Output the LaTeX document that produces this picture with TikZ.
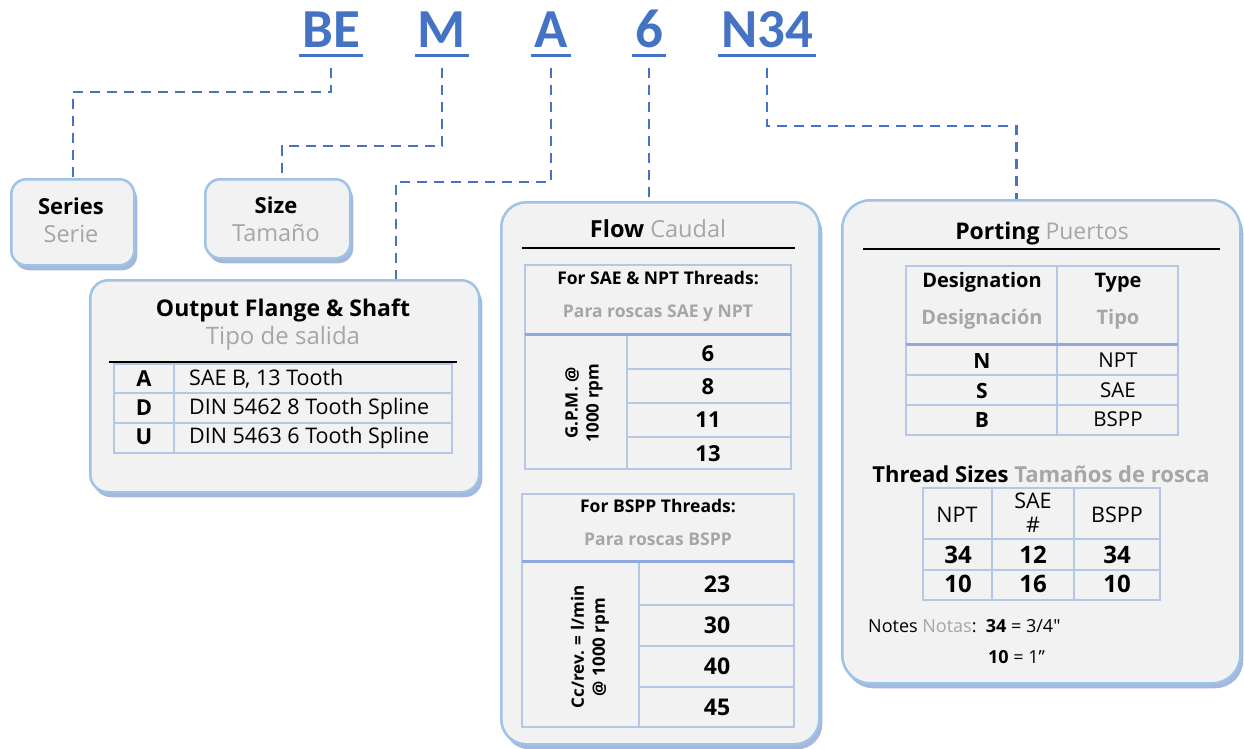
\documentclass[tikz,border=0pt]{standalone}
\usepackage{fontspec}
\setmainfont{Open Sans}
\newfontfamily\codefont{Carlito}
\usetikzlibrary{calc, shadows}
\definecolor{codeblue}{HTML}{4472C4}
\definecolor{boxline}{HTML}{9DC3E6}
\definecolor{boxfill}{HTML}{F2F2F2}
\definecolor{shade}{HTML}{A3B8DC}
\definecolor{gridc}{HTML}{B4C7E7}
\definecolor{gridbold}{HTML}{8EA9DB}
\definecolor{es}{HTML}{A6A6A6}
\newcommand{\setpx}[1]{\fontsize{#1}{#1}\selectfont}

\tikzset{
  code/.style={font=\codefont\bfseries\setpx{55}, text=codeblue, anchor=base, inner xsep=3pt, inner ysep=0pt},
  ul/.style={codeblue, line width=3.5pt},
  lead/.style={codeblue, line width=2.5pt, dash pattern=on 10pt off 7pt},
  panel/.style={draw=boxline, fill=boxfill, line width=2.5pt, rounded corners=#1, anchor=north west, inner sep=0pt,
    drop shadow={shadow xshift=3pt, shadow yshift=-5pt, fill=shade, opacity=1}},
  txt/.style={anchor=base, inner sep=0pt},
  grid/.style={draw=gridc, line width=1.5pt},
  thick rule/.style={draw=gridbold, line width=3pt},
  rule/.style={draw=black, line width=2pt}
}

\begin{document}
\begin{tikzpicture}[x=1pt, y=-1pt]
  \useasboundingbox (0,0) rectangle (1244,749);
  % part code
  \node[code] (be) at (331,48) {BE};
  \node[code] (m) at (442,48) {M};
  \node[code] (a) at (551,48) {A};
  \node[code] (six) at (649,48) {6};
  \node[code] (n34) at (767,48) {N34};
  \foreach \c in {be, m, a, six, n34}
    \draw[ul] ([yshift=-7.5pt]\c.base west) -- ([yshift=-7.5pt]\c.base east);

  % panels
  \node[panel=15pt, minimum width=123pt, minimum height=86pt] (series) at (10,178) {};
  \node[panel=15pt, minimum width=145pt, minimum height=79pt] (size) at (204,178) {};
  \node[panel=18pt, minimum width=389pt, minimum height=212pt] (output) at (89,279) {};
  \node[panel=25pt, minimum width=318pt, minimum height=542pt] (flow) at (500,201) {};
  \node[panel=28pt, minimum width=398pt, minimum height=483pt] (porting) at (841,199) {};

  % leaders
  \draw[lead] ([yshift=-20pt]be.base) -- ++(0,24) -| (series.north);
  \draw[lead] ([yshift=-20pt]m.base) -- ++(0,78) -| ([xshift=4pt]size.north);
  \draw[lead] ([yshift=-20pt]a.base) -- ++(0,114) -| ([xshift=307pt]output.north west);
  \draw[lead] ([yshift=-20pt]six.base) -- (six.base |- flow.north);
  \draw[lead] ([yshift=-20pt]n34.base) -- ++(0,58) -| ([xshift=-25pt]porting.north);

  % series, size
  \node[txt, font=\bfseries\setpx{22}] (seriesEn) at (71,214) {Series};
  \node[txt, font=\setpx{23.5}, text=es] (seriesEs) at (71,242) {Serie};
  \node[txt, font=\bfseries\setpx{22}] (sizeEn) at (276,213) {Size};
  \node[txt, font=\setpx{23.5}, text=es] (sizeEs) at (276,241) {Tamaño};

  % output flange
  \node[txt, font=\bfseries\setpx{23}] (outEn) at (283,316) {Output Flange \& Shaft};
  \node[txt, font=\setpx{24}, text=es] (outEs) at (283,344) {Tipo de salida};
  \draw[grid] (114,364) rectangle (452,453);
  \draw[grid] (174,364) -- (174,453) (114,393) -- (452,393) (114,423) -- (452,423);
  \draw[rule] (109,362) -- (457,362);
  \foreach \k/\d/\y in {A/{SAE B, 13 Tooth}/386, D/{DIN 5462 8 Tooth Spline}/415, U/{DIN 5463 6 Tooth Spline}/444} {
    \node[txt, font=\bfseries\setpx{22}] (key\k) at (144,\y) {\k};
    \node[txt, anchor=base west, font=\setpx{21.5}] (desc\k) at (189,\y-1) {\d};
  }

  % flow
  \node[txt, font=\setpx{23.5}] (flowHead) at (658,237) {\textbf{Flow} \textcolor{es}{Caudal}};
  \draw[rule] (522,248) -- (795,248);
  \draw[grid] (525,265) rectangle (791,469);
  \draw[grid] (627,334) -- (627,469) (627,369) -- (791,369) (627,403) -- (791,403) (627,437) -- (791,437);
  \draw[thick rule] (525,334) -- (791,334);
  \node[txt, font=\bfseries\setpx{17.5}] (sae) at (658,284) {For SAE \& NPT Threads:};
  \node[txt, font=\bfseries\setpx{17.5}, text=es] (saeEs) at (658,317) {Para roscas SAE y NPT};
  \node[font=\bfseries\setpx{17}, rotate=90, align=center, inner sep=0pt] (gpm) at (584,403) {G.P.M. @\\[4pt]1000 rpm};
  \foreach \v/\y in {6/361, 8/394, 11/427, 13/461}
    \node[txt, font=\bfseries\setpx{22}] (gpm\v) at (708,\y) {\v};

  \draw[grid] (522,494) rectangle (794,727);
  \draw[grid] (639,561) -- (639,727) (639,605) -- (794,605) (639,646) -- (794,646) (639,687) -- (794,687);
  \draw[thick rule] (522,561) -- (794,561);
  \node[txt, font=\bfseries\setpx{17.5}] (bspp) at (658,512) {For BSPP Threads:};
  \node[txt, font=\bfseries\setpx{17.5}, text=es] (bsppEs) at (658,545) {Para roscas BSPP};
  \node[font=\bfseries\setpx{17}, rotate=90, align=center, inner sep=0pt] (ccrev) at (590,647) {Cc/rev. = l/min\\[4pt]@ 1000 rpm};
  \foreach \v/\y in {23/592, 30/633, 40/674, 45/715}
    \node[txt, font=\bfseries\setpx{23}] (cc\v) at (717,\y) {\v};

  % porting
  \node[txt, font=\setpx{23}] (portHead) at (1042,239) {\textbf{Porting} \textcolor{es}{Puertos}};
  \draw[rule] (863,249) -- (1220,249);
  \draw[grid] (906,266) rectangle (1178,435);
  \draw[grid] (1057,266) -- (1057,435) (906,375) -- (1178,375) (906,405) -- (1178,405);
  \draw[thick rule] (906,344) -- (1178,344);
  \node[txt, font=\bfseries\setpx{20}] (desig) at (982,287) {Designation};
  \node[txt, font=\bfseries\setpx{20}, text=es] (desigEs) at (982,324) {Designación};
  \node[txt, font=\bfseries\setpx{20}] (type) at (1118,287) {Type};
  \node[txt, font=\bfseries\setpx{20}, text=es] (typeEs) at (1118,324) {Tipo};
  \foreach \k/\t/\y in {N/NPT/368, S/SAE/398, B/BSPP/427} {
    \node[txt, font=\bfseries\setpx{21}] (port\k) at (982,\y) {\k};
    \node[txt, font=\setpx{20.5}] (type\k) at (1118,\y-1) {\t};
  }

  % thread sizes
  \node[txt, font=\bfseries\setpx{22}] (sizesHead) at (1041,482) {Thread Sizes \textcolor{es}{Tamaños de rosca}};
  \draw[grid] (923,488) rectangle (1160,600);
  \draw[grid] (992,488) -- (992,600) (1074,488) -- (1074,600) (923,539) -- (1160,539) (923,570) -- (1160,570);
  \node[txt, font=\setpx{21.5}] (hNpt) at (957,522) {NPT};
  \node[txt, font=\setpx{21.5}] (hSae) at (1033,508) {SAE};
  \node[txt, font=\setpx{21.5}] (hHash) at (1033,532) {\#};
  \node[txt, font=\setpx{21.5}] (hBspp) at (1117,522) {BSPP};
  \foreach \p/\q/\r/\y in {34/12/34/563, 10/16/10/592} {
    \node[txt, font=\bfseries\setpx{24}] (npt\p) at (958,\y) {\p};
    \node[txt, font=\bfseries\setpx{24}] (sae\q) at (1033,\y) {\q};
    \node[txt, font=\bfseries\setpx{24}] (bspp\r) at (1117,\y) {\r};
  }
  \node[txt, anchor=base west, font=\setpx{18}] (note1) at (868,632) {Notes \textcolor{es}{Notas}:\ \ \textbf{34} = 3/4\textquotedbl};
  \node[txt, anchor=base west, font=\setpx{18}] (note2) at (988,663) {\textbf{10} = 1”};
\end{tikzpicture}
\end{document}
